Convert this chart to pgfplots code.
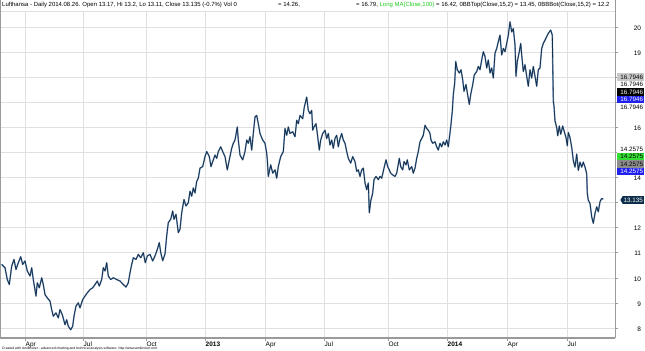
\documentclass[border=0pt]{standalone}
\usepackage{fontspec}
\setmainfont{Liberation Sans}
\usepackage{pgfplots}
\pgfplotsset{compat=1.18}
\usetikzlibrary{shapes.symbols}
\definecolor{price}{HTML}{15304C}
\definecolor{pricelt}{HTML}{7C9CBF}
\definecolor{gridc}{HTML}{E0E0E0}
\definecolor{axc}{HTML}{9A9A9A}
\definecolor{boxgray}{HTML}{C8C8C8}
\definecolor{boxdgray}{HTML}{8C8C8C}
\definecolor{boxblue}{HTML}{2020F0}
\definecolor{boxgreen}{HTML}{33DD33}
\definecolor{tagc}{HTML}{0E2D4A}
\definecolor{magreen}{HTML}{22CC22}
\tikzset{rl/.style={anchor=east, inner xsep=0.8bp, inner ysep=0bp, minimum height=7.2bp,
  text width=25.4bp, align=right, font=\fontsize{6.3}{7}\selectfont}}
\pgfplotstableread{
x y
1.7 10.53
5 10.40
7.3 9.93
9.3 9.73
11.7 10.47
14 10.73
16 10.33
18.3 10.60
20.7 10.84
22.7 10.53
25 10.67
27.3 10.27
30 10.07
31.7 10.40
33.3 9.93
36 9.27
37.3 9.80
39.3 9.60
41.7 10.00
43.3 9.73
45 9.33
47.3 9.20
50 9.07
51.7 8.73
53.3 8.47
56 8.60
58.3 8.40
60 8.73
62.3 8.53
65 8.13
66.7 8.33
68.3 8.07
70.7 7.93
72.7 8.07
74 8.47
76 8.87
78.3 9.00
80 8.80
82.7 9.13
85 9.27
87.3 9.40
90 9.53
92.7 9.60
95 9.73
97.3 9.87
99.3 9.67
101.7 9.93
103.3 10.40
105 10.27
106.7 10.60
108.3 10.07
110.7 9.93
113.3 10.00
116.7 9.93
120 9.87
123.3 9.73
126 9.63
128.3 9.80
130 10.20
131.7 10.53
133.3 10.80
136 10.73
138.3 10.93
140.7 10.80
143.3 11.00
145.3 10.60
147.3 10.87
150 10.93
152.7 10.67
155 10.87
157.3 11.13
159.3 11.40
160.7 11.01
162.7 10.68
165 10.95
166.7 11.67
168.3 12.20
170.7 12.33
172.7 12.66
174 12.33
176 12.53
178.3 11.80
180 11.93
181.7 12.59
184 13.12
186 12.86
188.3 12.99
190 13.45
191.7 13.25
193.3 13.58
195 13.38
196.7 13.84
198.3 13.97
200 14.37
202.7 14.43
205 14.83
206.7 15.03
209.3 14.83
211 14.43
212.7 14.63
215 14.89
216.7 14.76
218.3 15.03
220.7 15.22
222.7 15.03
225 14.83
227.3 14.30
229.3 14.70
231.7 15.16
233.3 15.36
235 15.49
237.3 16.01
238.3 15.49
240 14.89
242.7 14.70
245 15.03
246.7 15.49
248.3 15.36
250 15.62
251.7 15.09
253.3 15.75
255 16.41
256.7 16.47
258.3 16.14
260 15.75
262.7 15.49
265 15.36
266.7 14.96
267.3 14.70
268.3 14.04
270.7 14.50
272.7 14.17
275 14.30
276.7 13.97
278.3 14.43
280.7 14.83
283.3 15.03
285 15.95
286.7 15.68
288.3 16.01
290 15.75
292.7 15.82
295 15.62
296.7 16.28
298.3 16.14
300 16.47
302.7 16.34
304.3 16.80
306.7 17.20
308.3 16.67
310 16.54
311.7 16.67
312.7 15.88
314 16.01
316 16.14
317.3 15.75
319.3 15.09
320.7 15.49
322.7 15.75
325 15.88
326.7 15.55
328.3 15.75
330 15.29
331.7 15.49
333.3 15.16
335 15.55
336.7 15.68
338.3 15.22
340 15.55
341.7 15.75
343.3 15.49
345 15.36
346.7 15.03
348.3 14.76
350.7 14.57
352.7 14.83
355 14.63
356.7 14.24
358.3 14.30
360 14.04
361.7 14.30
363.3 14.37
365 13.78
366.7 13.51
368.3 13.78
369.3 12.59
370.7 13.05
372.7 13.38
374 13.91
376 14.04
378.3 13.91
380 14.04
381.7 13.97
384 14.37
386 14.70
387.7 14.43
389.3 14.30
390.7 14.17
392.7 14.10
395 14.04
396.7 14.17
399.3 14.76
400.7 14.43
402.7 14.30
404 14.63
406 14.50
407.3 14.70
409.3 14.30
411.7 14.43
413.3 14.17
415 14.37
416.7 14.76
418.3 15.03
420 15.42
421.7 15.55
423.3 15.68
425 16.08
426.7 15.95
428.3 15.88
430 15.75
431 15.49
432.7 15.36
435 15.42
436.7 15.22
438.3 15.09
440 15.36
441.7 15.22
443.3 15.42
445 15.29
446.7 15.49
448.3 15.22
449.3 15.55
450.7 16.01
452.3 16.64
453.3 17.30
454.7 17.76
455.7 18.62
457.3 18.29
459.3 18.16
461 18.29
462.7 17.89
464 17.43
466 17.70
467.3 17.37
469.3 16.91
470.7 17.30
472.7 17.70
474.3 18.09
476.7 18.22
478.3 18.42
480 18.29
481.7 18.68
483.3 19.01
485 18.82
486.7 18.36
488.3 18.68
490 18.16
491.7 18.36
493.3 17.96
495 18.95
496.7 19.14
498.3 19.41
500 19.67
501.7 18.88
503.3 19.14
505 19.01
506.7 19.34
508.3 19.67
510 20.20
511.7 19.80
513.3 19.93
515 19.28
516 18.03
517.3 18.62
519.3 19.01
520.7 19.34
522 18.75
523.3 18.22
525 18.49
526.7 18.03
528.3 17.63
530 18.29
531.7 17.96
533.3 18.42
535 18.03
536.7 17.63
538.3 18.29
540 18.36
541.7 19.14
543.3 19.34
545 19.47
546.7 19.61
548.3 19.74
550.7 19.87
552.3 19.67
553.3 17.04
554 16.84
555 16.25
556.7 15.99
557.7 15.66
559.3 16.05
560.7 15.72
562.7 16.05
564 15.86
566 15.59
567.3 15.26
568.3 15.79
570 15.59
571.7 15.20
573.3 14.67
575 14.41
576.7 14.93
578.3 14.28
580 14.61
581.7 14.41
583.3 14.61
585 14.41
586.7 14.14
587.3 13.36
588.3 13.09
590 12.96
591.7 12.43
593.3 12.17
595 12.57
596.7 12.83
598.3 12.63
600 13.03
601.7 13.16
603.3 13.135
}\closes
\begin{document}
\begin{tikzpicture}
\path[use as bounding box] (0bp,-13bp) rectangle (645bp,338bp);
\begin{axis}[at={(0,0)}, anchor=south west, scale only axis,
  width=615bp, height=338bp,
  xmin=0, xmax=615, ymin=7.60, ymax=21.07,
  axis line style={draw=none},
  xtick={25,83,146,205,265,324,388,447,507,567},
  xticklabels={Apr,Jul,Oct,\textbf{2013},Apr,Jul,Oct,\textbf{2014},Apr,Jul},
  ytick={8,9,...,20},
  yticklabels={8,9,10,11,12,,14,,16,,,19,20},
  xtick pos=bottom, ytick pos=right, yticklabel pos=right,
  tick align=outside, major tick length=2.5bp,
  tick style={axc, line width=0.5bp},
  grid=major, major grid style={gridc, line width=0.5bp},
  xticklabel style={anchor=north west, font=\fontsize{6.5}{7}\selectfont, xshift=-0.5bp, inner sep=1bp},
  yticklabel style={anchor=east, font=\fontsize{6.5}{7}\selectfont, xshift=27bp, yshift=-1bp},
  clip=false,
]
\addplot[pricelt, line width=1.5pt, line join=round] table {\closes};
\addplot[price, line width=0.8pt, line join=round] table {\closes};
\fill[white] (axis cs:0,20.63) rectangle (axis cs:615,21.07);
\draw[gridc, line width=0.5bp] (axis cs:0,20.63) -- (axis cs:615,20.63);
\draw[axc, line width=1.5bp] (rel axis cs:0,0) -- (rel axis cs:1,0);
\draw[axc, line width=1.2bp] (rel axis cs:0,0) -- (rel axis cs:0,1);
\draw[axc, line width=0.8bp] (rel axis cs:1,0) -- (rel axis cs:1,1);
\end{axis}
% header
\node[anchor=west, inner sep=0, font=\fontsize{6}{7}\selectfont] at (2bp,333bp)
  {Lufthansa - Daily 2014.08.26. Open 13.17, Hi 13.2, Lo 13.11, Close 13.135 (-0.7\%) Vol 0};
\node[anchor=west, inner sep=0, font=\fontsize{6}{7}\selectfont] at (278bp,333bp) {= 14.26,};
\node[anchor=west, inner sep=0, font=\fontsize{6}{7}\selectfont] at (356bp,333bp)
  {= 16.79, \textcolor{magreen}{Long MA(Close,100)} = 16.42, 0BBTop(Close,15,2) = 13.45, 0BBBot(Close,15,2) = 12.2};
% right labels
\node[rl, fill=boxgray] at (644bp,261bp) {16.7946};
\node[rl, fill=white] at (644bp,253.5bp) {16.7946};
\node[rl, fill=black, text=white] at (644bp,246bp) {16.7946};
\node[rl, fill=boxblue, text=white] at (644bp,238.5bp) {16.7946};
\node[rl, fill=white] at (644bp,231bp) {16.7946};
\node[rl, fill=white] at (644bp,189bp) {14.2575};
\node[rl, fill=boxgreen] at (644bp,181.5bp) {14.2575};
\node[rl, fill=boxdgray] at (644bp,174bp) {14.2575};
\node[rl, fill=boxblue, text=white] at (644bp,166.5bp) {14.2575};
\node[signal, signal to=west, signal pointer angle=120, fill=tagc, text=white, inner xsep=1bp, inner ysep=0.3bp,
  minimum height=7.6bp, font=\fontsize{6.3}{7}\selectfont, anchor=east] at (644bp,138bp) {13.135};
% credit
\node[anchor=west, inner sep=0, font=\fontsize{3.4}{4}\selectfont] at (2bp,-10.5bp)
  {Created with AmiBroker - advanced charting and technical analysis software. http://www.amibroker.com};
\end{tikzpicture}
\end{document}
